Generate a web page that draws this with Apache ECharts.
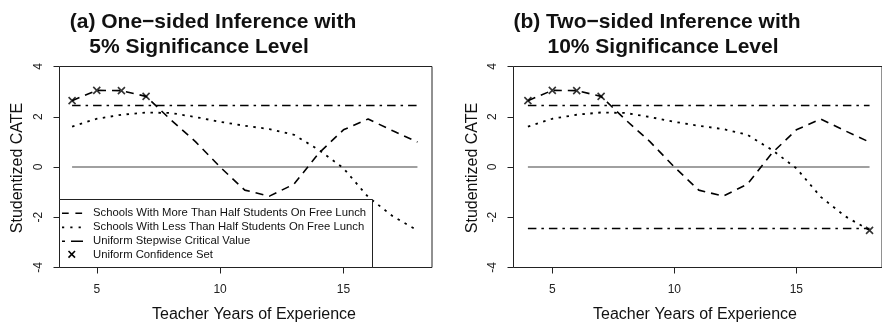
<!DOCTYPE html>
<html>
<head>
<meta charset="utf-8">
<script src="https://cdn.jsdelivr.net/npm/echarts@6/dist/echarts.min.js"></script>
<style>
html,body{margin:0;padding:0;background:#fff;}
#chart{width:882px;height:322px;}
</style>
</head>
<body>
<div id="chart"></div>
<script>
// ---- data ----
const years = [4, 5, 6, 7, 8, 9, 10, 11, 12, 13, 14, 15, 16, 17, 18];
const moreHalf = [2.64, 3.05, 3.04, 2.81, 1.88, 1.01, 0.0, -0.92, -1.16, -0.68, 0.55, 1.48, 1.91, 1.44, 0.99];
const lessHalf = [1.61, 1.92, 2.08, 2.17, 2.15, 1.99, 1.80, 1.64, 1.51, 1.28, 0.68, -0.05, -1.19, -1.96, -2.52];
const critA = 2.45;               // one-sided, 5%
const critB = 2.45;               // two-sided, 10% (±)
const confSetA_more = [4, 5, 6, 7];
const confSetB_more = [4, 5, 6, 7];
const confSetB_less = [18];
const xTicks = [5, 10, 15];
const yTicks = [-4, -2, 0, 2, 4];
const titlesA = ['(a) One\u2212sided Inference with', '5% Significance Level'];
const titlesB = ['(b) Two\u2212sided Inference with', '10% Significance Level'];
const xTitle = 'Teacher Years of Experience';
const yTitle = 'Studentized CATE';
const legendItems = [
  'Schools With More Than Half Students On Free Lunch',
  'Schools With Less Than Half Students On Free Lunch',
  'Uniform Stepwise Critical Value',
  'Uniform Confidence Set'
];

// ---- helpers ----
const FONT = '"Liberation Sans", Arial, Helvetica, sans-serif';
const pairs = (xs, ys) => xs.map((x, i) => [x, ys[i]]);
const pick = (sel, ys) => sel.map(x => [x, ys[years.indexOf(x)]]);
const DASH = [8, 6];
const DOT = [2.5, 5.5];
const DASHDOT = [8.5, 5, 2.5, 5];
const crossPath = 'path://M0,0L10,10M10,0L0,10';

function axesFor(gi, xmin, xmax) {
  return {
    x: {
      type: 'value', gridIndex: gi, min: xmin, max: xmax, position: 'bottom',
      axisLine: { show: false, onZero: false },
      splitLine: { show: false },
      axisTick: { show: true, inside: false, length: 6, customValues: xTicks, lineStyle: { color: '#222', width: 1 } },
      axisLabel: { show: true, customValues: xTicks, margin: 16, fontSize: 12, color: '#222', fontFamily: FONT }
    },
    y: {
      type: 'value', gridIndex: gi, min: yTicks[0], max: yTicks[yTicks.length - 1], interval: 2, position: 'left',
      axisLine: { show: false, onZero: false },
      splitLine: { show: false },
      axisTick: { show: true, inside: false, length: 6, lineStyle: { color: '#222', width: 1 } },
      axisLabel: { show: true, rotate: 90, margin: 15, fontSize: 12, color: '#222', fontFamily: FONT }
    }
  };
}

const aAx = axesFor(0, 3.49, 18.59);
const bAx = axesFor(1, 3.41, 18.51);

function lineSeries(gi, data, dash, color, width, z) {
  return {
    type: 'line', xAxisIndex: gi, yAxisIndex: gi, data: data,
    showSymbol: false, symbol: 'none', silent: true, animation: false, z: z || 2,
    lineStyle: { color: color || '#000', width: width || 1.6, type: dash || 'solid', cap: 'butt' }
  };
}
function crossSeries(gi, data) {
  return {
    type: 'scatter', xAxisIndex: gi, yAxisIndex: gi, data: data, animation: false, z: 5,
    symbol: crossPath, symbolSize: 7,
    itemStyle: { color: 'none', borderColor: '#000', borderWidth: 1.6 }
  };
}

const series = [
  // panel a
  lineSeries(0, [[years[0], 0], [years[years.length - 1], 0]], 'solid', '#808080', 1.5, 1),
  lineSeries(0, pairs(years, moreHalf), DASH),
  lineSeries(0, pairs(years, lessHalf), DOT, '#000', 1.8),
  lineSeries(0, [[years[0], critA], [years[years.length - 1], critA]], DASHDOT),
  crossSeries(0, pick(confSetA_more, moreHalf)),
  // panel b
  lineSeries(1, [[years[0], 0], [years[years.length - 1], 0]], 'solid', '#808080', 1.5, 1),
  lineSeries(1, pairs(years, moreHalf), DASH),
  lineSeries(1, pairs(years, lessHalf), DOT, '#000', 1.8),
  lineSeries(1, [[years[0], critB], [years[years.length - 1], critB]], DASHDOT),
  lineSeries(1, [[years[0], -critB], [years[years.length - 1], -critB]], DASHDOT),
  crossSeries(1, pick(confSetB_more, moreHalf).concat(pick(confSetB_less, lessHalf)))
];

function txt(x, y, s, size, opts) {
  opts = opts || {};
  return {
    type: 'text', x: x, y: y, rotation: opts.rotation || 0, z: 10,
    style: {
      text: s, fontSize: size, fontFamily: FONT, fontWeight: opts.bold ? 'bold' : 'normal',
      fill: '#111', align: opts.align || 'left', verticalAlign: 'middle'
    }
  };
}
function seg(x1, y1, x2, y2, w, dash) {
  const st = { stroke: '#000', lineWidth: w };
  if (dash) st.lineDash = dash;
  return { type: 'line', z: 9, shape: { x1: x1, y1: y1, x2: x2, y2: y2 }, style: st };
}

const graphic = [
  txt(213, 22, titlesA[0], 21, { bold: true, align: 'center' }),
  txt(199, 47.5, titlesA[1], 21, { bold: true, align: 'center' }),
  txt(657, 22, titlesB[0], 21, { bold: true, align: 'center' }),
  txt(663, 47.5, titlesB[1], 21, { bold: true, align: 'center' }),
  txt(254, 315, xTitle, 16, { align: 'center' }),
  txt(695, 315, xTitle, 16, { align: 'center' }),
  txt(18, 168, yTitle, 16, { align: 'center', rotation: Math.PI / 2 }),
  txt(473, 168, yTitle, 16, { align: 'center', rotation: Math.PI / 2 }),
  // legend box
  { type: 'rect', z: 8, shape: { x: 59.5, y: 199.5, width: 313, height: 68 },
    style: { fill: '#fff', stroke: '#222', lineWidth: 1 } },
  seg(62, 213.3, 83, 213.3, 1.6, [6.7, 6.7]),
  seg(62, 227.3, 83, 227.3, 1.8, [2.2, 6.1]),
  seg(62, 241.3, 83, 241.3, 1.6, [3, 6, 12, 6]),
  seg(68.5, 251, 75, 257.6, 1.6),
  seg(75, 251, 68.5, 257.6, 1.6)
];
legendItems.forEach((s, i) => graphic.push(txt(93, 213.3 + i * 13.8, s, 11.3)));

const chart = echarts.init(document.getElementById('chart'), null, { renderer: 'canvas' });
chart.setOption({
  animation: false,
  backgroundColor: '#fff',
  grid: [
    { left: 59.5, top: 66.5, width: 372.5, height: 201, show: true, borderColor: '#222', borderWidth: 1, backgroundColor: 'transparent', containLabel: false },
    { left: 513.5, top: 66.5, width: 372.5, height: 201, show: true, borderColor: '#222', borderWidth: 1, backgroundColor: 'transparent', containLabel: false }
  ],
  xAxis: [aAx.x, bAx.x],
  yAxis: [aAx.y, bAx.y],
  series: series,
  graphic: graphic
});
</script>
</body>
</html>
